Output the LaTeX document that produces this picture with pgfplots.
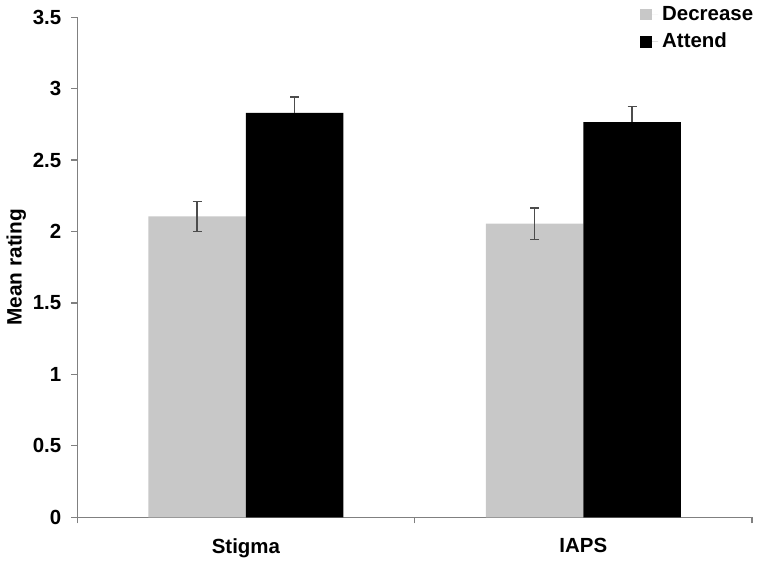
\documentclass[border=0pt]{standalone}
\usepackage{pgfplots}
\pgfplotsset{compat=1.18}
\usepackage{fontspec}
\setmainfont{Liberation Sans}
\definecolor{lgray}{HTML}{C8C8C8}
\definecolor{axgray}{HTML}{808080}
\begin{document}
\begin{tikzpicture}
\begin{axis}[
  name=ax,
  scale only axis,
  width=340pt, height=252pt,
  xmin=-0.5, xmax=1.5,
  ymin=0, ymax=3.5,
  ytick={0,0.5,...,3.5},
  yticklabels={0,0.5,1,1.5,2,2.5,3,3.5},
  xtick={0,1},
  xticklabels={Stigma,IAPS},
  minor xtick={-0.5,0.5,1.5},
  axis lines*=left,
  axis line style={axgray, line width=0.6pt},
  every tick/.style={axgray, line width=0.6pt},
  major x tick style={draw=none},
  tick align=outside,
  major tick length=3pt,
  minor tick length=3pt,
  tick label style={font=\bfseries\fontsize{10.3}{12}\selectfont},
  xticklabel style={yshift=-4pt},
  yticklabel style={xshift=-1.5pt},
  ylabel={\bfseries Mean rating},
  ylabel style={font=\bfseries\fontsize{10.5}{12}\selectfont, yshift=-3.5pt},
  /pgf/number format/assume math mode=true,
  legend style={draw=none, fill=none, at={(1.011,1.035)}, anchor=north east,
    font=\bfseries\fontsize{10.3}{12}\selectfont, row sep=1pt, inner sep=1pt},
  legend cell align=left,
  legend image code/.code={\fill[#1] (0pt,-3pt) rectangle (6pt,3pt); \path (0pt,0pt) -- (9pt,0pt);},
]
\addplot[ybar, bar width=0.289, bar shift=0pt, fill=lgray, draw=none,
  error bars/.cd, y dir=both, y explicit,
  error bar style={draw=black!70, line width=0.7pt},
  error mark options={rotate=90, mark size=2.25pt, draw=black!70, line width=0.7pt}]
  coordinates {(-0.1445,2.105) +- (0,0.105) (0.8555,2.055) +- (0,0.11)};
\addlegendentry{Decrease}
\addplot[ybar, bar width=0.289, bar shift=0pt, fill=black, draw=none,
  error bars/.cd, y dir=plus, y explicit,
  error bar style={draw=black!70, line width=0.7pt},
  error mark options={rotate=90, mark size=2.25pt, draw=black!70, line width=0.7pt}]
  coordinates {(0.1445,2.83) +- (0,0.11) (1.1445,2.765) +- (0,0.11)};
\addlegendentry{Attend}
\end{axis}
\path ([xshift=4pt]ax.south east);
\end{tikzpicture}
\end{document}
